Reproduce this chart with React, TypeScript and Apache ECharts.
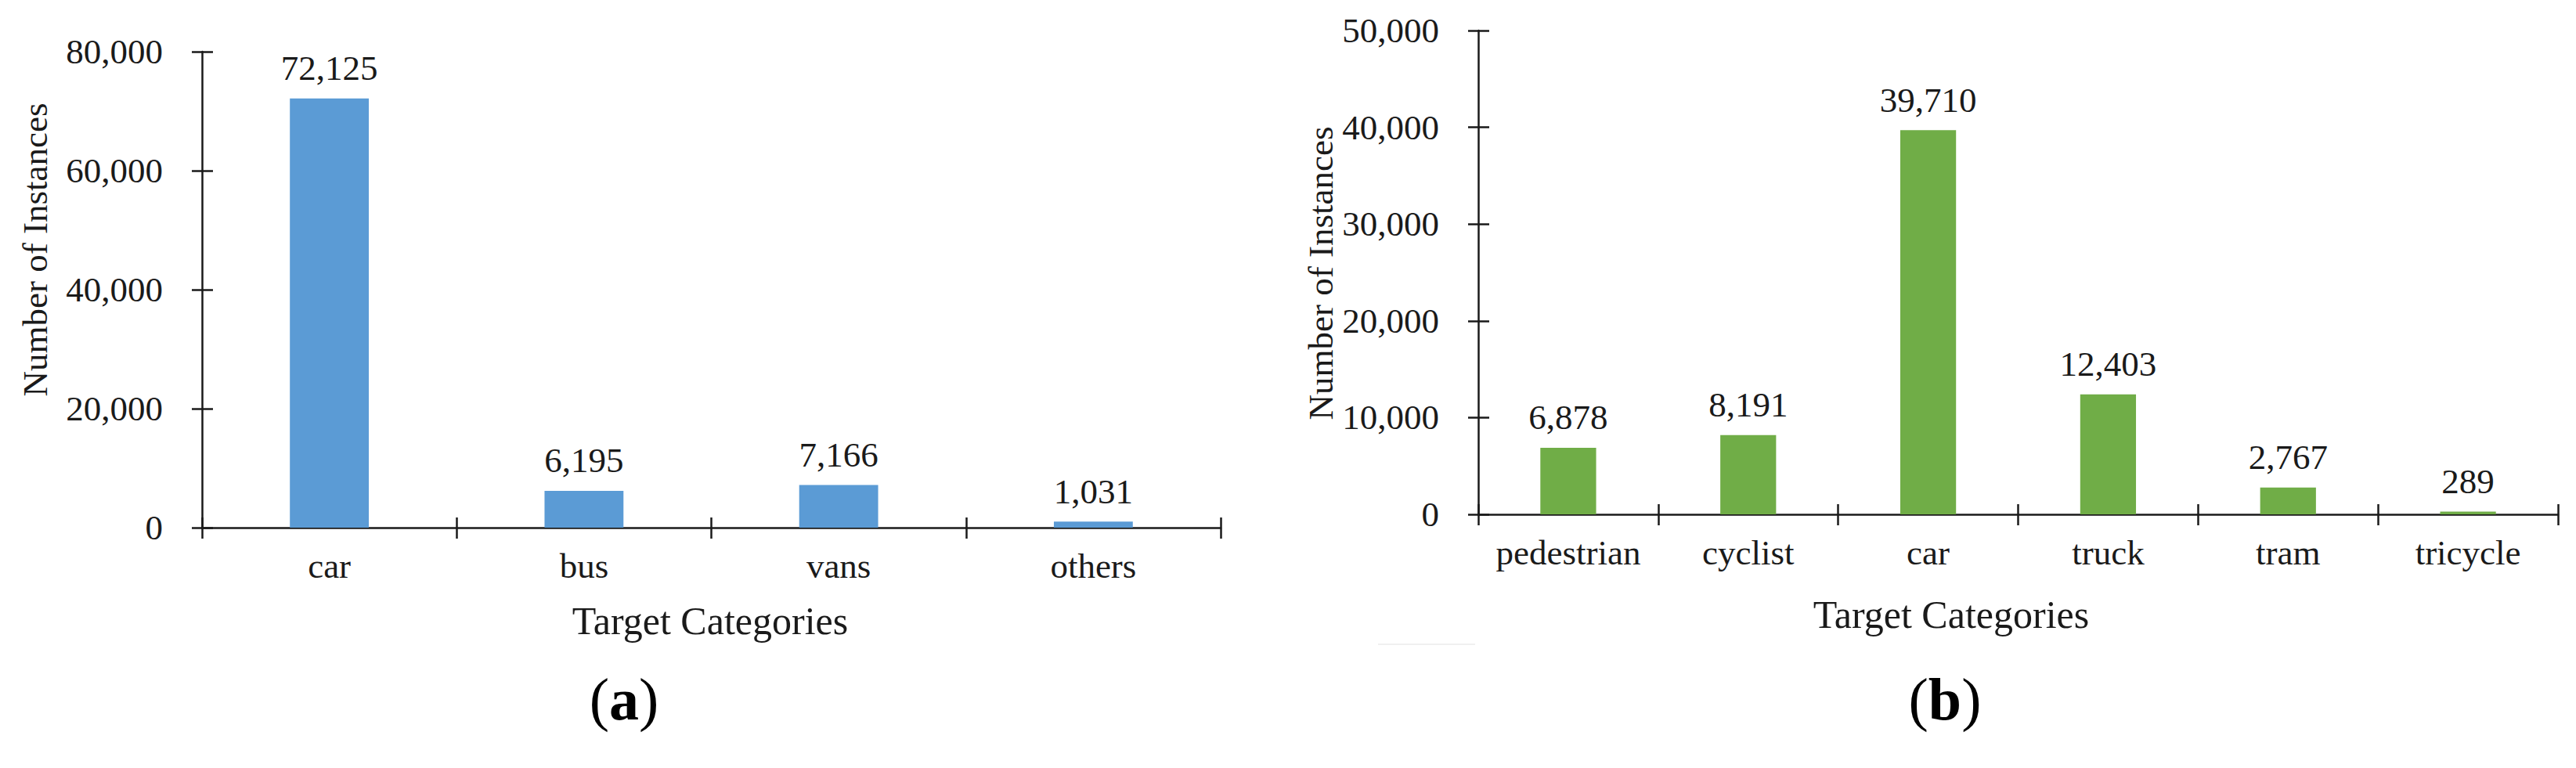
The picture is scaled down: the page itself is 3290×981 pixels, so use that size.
import React, { useEffect, useRef } from "react";
import * as echarts from "echarts";

const categoriesA = ["car", "bus", "vans", "others"];
const valuesA = [72125, 6195, 7166, 1031];
const categoriesB = ["pedestrian", "cyclist", "car", "truck", "tram", "tricycle"];
const valuesB = [6878, 8191, 39710, 12403, 2767, 289];
const yTitle = "Number of Instances";
const xTitle = "Target Categories";
const captionA = "a";
const captionB = "b";

const FONT = "'Times New Roman', 'Liberation Serif', serif";
const INK = "#1a1a1a";
const fmt = (v: number) => Number(v).toLocaleString("en-US");

export default function App() {
  const ref = useRef<HTMLDivElement>(null);
  useEffect(() => {
    if (!ref.current) return;
    const chart = echarts.init(ref.current, undefined, { renderer: "svg" });
    const axisLine = { show: true, lineStyle: { color: INK, width: 2.5 } };
    const tickStyle = { color: INK, width: 2.5 };
    const labelStyle = { fontFamily: FONT, fontSize: 45, color: INK };

    const yAxisPair = (gridIndex: number, max: number, interval: number) => [
      {
        type: "value", gridIndex, min: 0, max, interval, position: "left",
        axisLine, splitLine: { show: false },
        axisTick: { show: true, inside: false, length: 13, lineStyle: tickStyle },
        axisLabel: { ...labelStyle, margin: 50, formatter: (v: number) => fmt(v) },
      },
      {
        type: "value", gridIndex, min: 0, max, interval, position: "left",
        axisLine: { show: false }, splitLine: { show: false },
        axisTick: { show: true, inside: true, length: 14, lineStyle: tickStyle },
        axisLabel: { show: false },
      },
    ];
    const xAxisPair = (gridIndex: number, data: string[]) => [
      {
        type: "category", gridIndex, data, position: "bottom", boundaryGap: true,
        axisLine, splitLine: { show: false },
        axisTick: { show: true, inside: false, length: 14, lineStyle: tickStyle },
        axisLabel: { ...labelStyle, margin: 26, interval: 0 },
      },
      {
        type: "category", gridIndex, data, position: "bottom", boundaryGap: true,
        axisLine: { show: false }, splitLine: { show: false },
        axisTick: { show: true, inside: true, length: 13, lineStyle: tickStyle },
        axisLabel: { show: false },
      },
    ];
    const seriesLabel = {
      show: true, position: "top", distance: 16,
      fontFamily: FONT, fontSize: 45, color: INK,
      formatter: (p: any) => fmt(p.value),
    };
    const txt = (x: number, y: number, text: string, size: number, rot = 0) => ({
      type: "text", x, y, rotation: rot,
      style: { text, fontFamily: FONT, fontSize: size, fill: INK, align: "center", verticalAlign: "middle" },
    });
    const caption = (x: number, y: number, letter: string) => ({
      type: "text", x, y,
      style: {
        text: "({b|" + letter + "})", fontFamily: FONT, fontSize: 76, fill: "#000",
        align: "center", verticalAlign: "middle",
        rich: { b: { fontFamily: FONT, fontSize: 76, fontWeight: "bold", fill: "#000" } },
      },
    });

    chart.setOption({
      animation: false,
      backgroundColor: "#ffffff",
      grid: [
        { left: 258, top: 66, width: 1301, height: 608 },
        { left: 1888, top: 39, width: 1379, height: 618 },
      ],
      xAxis: [...xAxisPair(0, categoriesA), ...xAxisPair(1, categoriesB)],
      yAxis: [...yAxisPair(0, 80000, 20000), ...yAxisPair(1, 50000, 10000)],
      series: [
        {
          type: "bar", xAxisIndex: 0, yAxisIndex: 0, data: valuesA, barWidth: "31%",
          itemStyle: { color: "#5B9BD5" }, label: seriesLabel,
        },
        {
          type: "bar", xAxisIndex: 2, yAxisIndex: 2, data: valuesB, barWidth: "31%",
          itemStyle: { color: "#70AD47" }, label: seriesLabel,
        },
      ],
      graphic: [
        txt(45, 319, yTitle, 45, Math.PI / 2),
        txt(1687, 349, yTitle, 45, Math.PI / 2),
        txt(907, 793, xTitle, 50),
        txt(2492, 785, xTitle, 50),
        {
          type: "line", shape: { x1: 1760, y1: 823, x2: 1884, y2: 823 },
          style: { stroke: "#f0f0f0", lineWidth: 2 },
        },
        caption(797, 893, captionA),
        caption(2484, 893, captionB),
      ],
    });
    return () => chart.dispose();
  }, []);
  return (
    <div
      ref={ref}
      style={{ position: "fixed", left: 0, top: 0, width: 3290, height: 981, background: "#fff" }}
    />
  );
}
